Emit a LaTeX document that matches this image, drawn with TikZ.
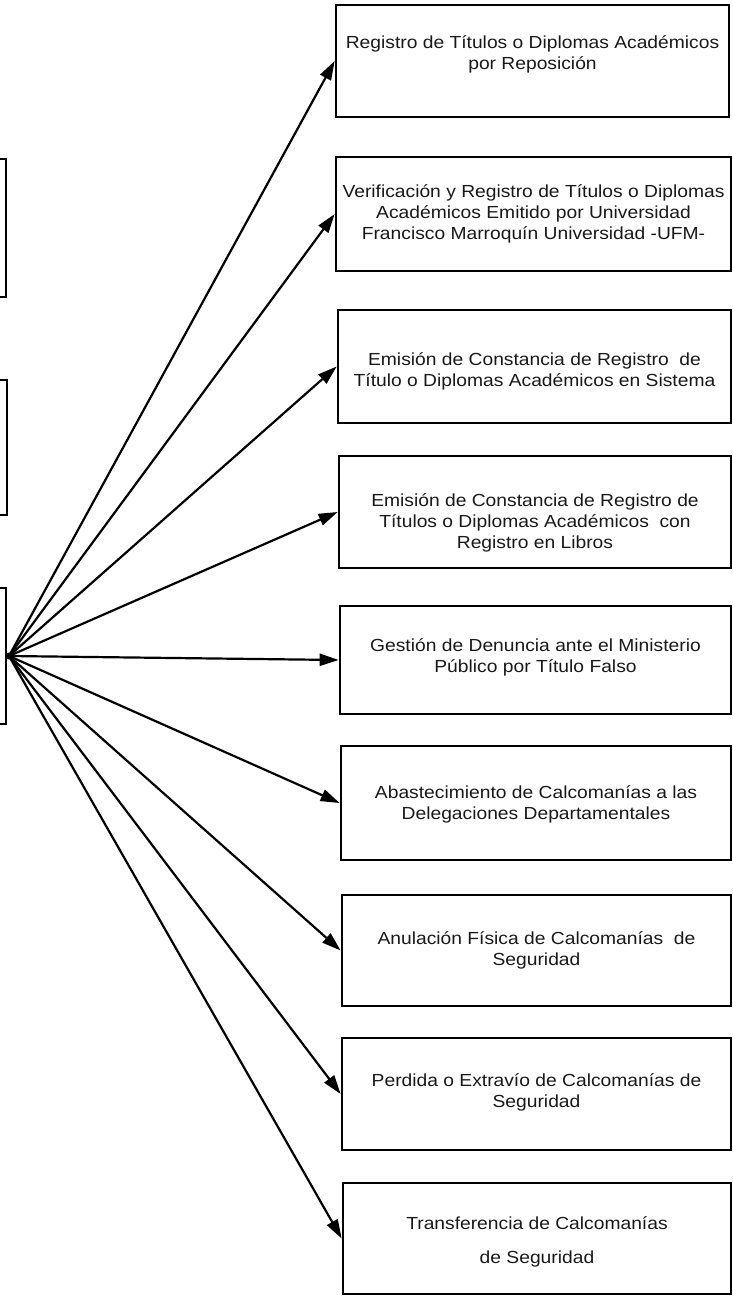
\documentclass[tikz,border=0pt]{standalone}
\usepackage{fontspec}
\setmainfont{Liberation Sans}[FakeStretch=1.1]
\usetikzlibrary{arrows.meta}

\tikzset{
  procbox/.style={draw=black, line width=2.7pt, rectangle, inner sep=0pt},
  proctext/.style={align=center, inner sep=0pt,
    font=\fontsize{17.5pt}{21pt}\selectfont, text=black!90},
  sidebox/.style={draw=black, line width=2.7pt},
  arr/.style={draw=black, line width=2.2pt,
    -{Triangle[length=19pt, width=12pt]}},
}

% box from its left, right, top and bottom edges, with its text moved down by #6
\newcommand{\procnode}[7]{%
  \node[procbox, minimum width=#3-#2, minimum height=#5-#4]
    (#1) at ({(#2+#3)/2},{(#4+#5)/2}) {};
  \node[proctext] (#1-text) at ({(#2+#3)/2},{(#4+#5)/2+#6}) {#7};}

\begin{document}
\begin{tikzpicture}[x=1pt, y=-1pt]
  \useasboundingbox (0,0) rectangle (733,1296);
  \clip (0,0) rectangle (733,1296);

  % boxes cut by the left margin
  \draw[sidebox] (-120,159) rectangle (6,297);
  \draw[sidebox] (-120,380) rectangle (7,515);
  \draw[sidebox] (-120,588) rectangle (6,724);

  \coordinate (hub) at (9,656);
  \fill (hub) circle (3.5pt);

  \procnode{b1}{336}{729}{5}{117}{-7}{Registro de Títulos o Diplomas Académicos\\por Reposición}
  \procnode{b2}{336}{731}{157}{271}{0}{Verificación y Registro de Títulos o Diplomas\\Académicos Emitido por Universidad\\Francisco Marroquín Universidad -UFM-}
  \procnode{b3}{338}{731}{310}{423}{5}{Emisión de Constancia de Registro~ de\\Título o Diplomas Académicos en Sistema}
  \procnode{b4}{339}{731}{456}{568}{11}{Emisión de Constancia de Registro de\\Títulos o Diplomas Académicos~ con\\Registro en Libros}
  \procnode{b5}{340}{731}{606}{714}{-3}{Gestión de Denuncia ante el Ministerio\\Público por Título Falso}
  \procnode{b6}{341}{731}{746}{860}{1}{Abastecimiento de Calcomanías a las\\Delegaciones Departamentales}
  \procnode{b7}{342}{731}{895}{1006}{0}{Anulación Física de Calcomanías~ de\\Seguridad}
  \procnode{b8}{342}{731}{1038}{1150}{-2}{Perdida o Extravío de Calcomanías de\\Seguridad}
  \procnode{b9}{343}{731}{1183}{1294}{3}{Transferencia de Calcomanías\\[13pt]de Seguridad}

  \foreach \b in {b1,b2,b3,b4,b5,b6,b7,b8,b9}
    \draw[arr] (hub) -- (\b.west);
\end{tikzpicture}
\end{document}
